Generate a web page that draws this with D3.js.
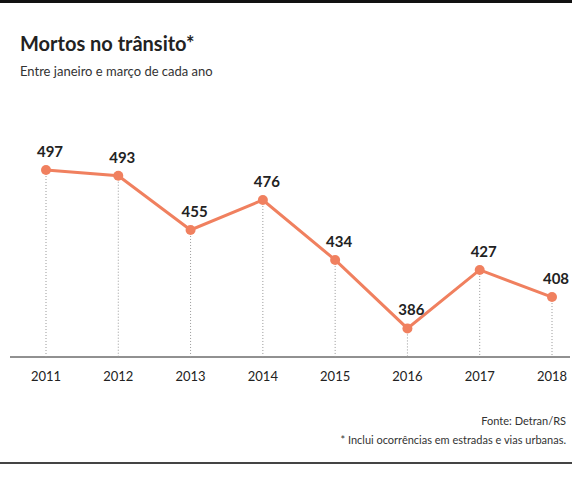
<!DOCTYPE html>
<html>
<head>
<meta charset="utf-8">
<script src="https://cdn.jsdelivr.net/npm/d3@7"></script>
<style>
  body { margin: 0; background: #fff; }
  svg { font-family: Lato, "Open Sans", sans-serif; }
</style>
</head>
<body>
<svg id="chart"></svg>
<script>
const years = ['2011', '2012', '2013', '2014', '2015', '2016', '2017', '2018'];
const deaths = [497, 493, 455, 476, 434, 386, 427, 408];

const width = 572, height = 483;
const svg = d3.select('#chart').attr('width', width).attr('height', height);

// faixas de cima e de baixo
svg.append('rect').attr('x', 0).attr('y', 0).attr('width', width).attr('height', 3).attr('fill', '#111');
svg.append('rect').attr('x', 0).attr('y', 462).attr('width', width).attr('height', 2).attr('fill', '#444');

svg.append('text').attr('x', 20).attr('y', 51)
  .attr('font-size', 20).attr('font-weight', 700).attr('fill', '#222')
  .text('Mortos no trânsito*');
svg.append('text').attr('x', 20).attr('y', 76)
  .attr('font-size', 13).attr('fill', '#333')
  .text('Entre janeiro e março de cada ano');

const x = d3.scalePoint().domain(years).range([46, 552]);
const y = d3.scaleLinear().domain([366, 497]).range([357, 170]);
const baseY = y(366);

// linha de base
svg.append('line').attr('x1', 10).attr('x2', 570).attr('y1', baseY).attr('y2', baseY)
  .attr('stroke', '#222').attr('stroke-width', 1);

const data = years.map((yr, i) => ({ yr, v: deaths[i] }));

svg.selectAll('.guide').data(data).enter().append('line')
  .attr('class', 'guide')
  .attr('x1', d => x(d.yr)).attr('x2', d => x(d.yr))
  .attr('y1', d => y(d.v)).attr('y2', baseY)
  .attr('stroke', '#999').attr('stroke-width', 1).attr('stroke-dasharray', '1,2');

svg.append('path').datum(data)
  .attr('fill', 'none').attr('stroke', '#f0805f').attr('stroke-width', 3)
  .attr('d', d3.line().x(d => x(d.yr)).y(d => y(d.v)));

svg.selectAll('.dot').data(data).enter().append('circle')
  .attr('cx', d => x(d.yr)).attr('cy', d => y(d.v)).attr('r', 5)
  .attr('fill', '#f0805f');

svg.selectAll('.val').data(data).enter().append('text')
  .attr('x', d => x(d.yr) + 4).attr('y', d => y(d.v) - 13)
  .attr('text-anchor', 'middle').attr('font-size', 15).attr('font-weight', 700).attr('fill', '#222')
  .text(d => d.v);

svg.selectAll('.yr').data(years).enter().append('text')
  .attr('x', d => x(d)).attr('y', 381)
  .attr('text-anchor', 'middle').attr('font-size', 13).attr('fill', '#222')
  .text(d => d);

svg.append('text').attr('x', 566).attr('y', 425).attr('text-anchor', 'end')
  .attr('font-size', 11).attr('fill', '#333').text('Fonte: Detran/RS');
svg.append('text').attr('x', 566).attr('y', 444).attr('text-anchor', 'end')
  .attr('font-size', 11).attr('fill', '#333').text('* Inclui ocorrências em estradas e vias urbanas.');
</script>
</body>
</html>
